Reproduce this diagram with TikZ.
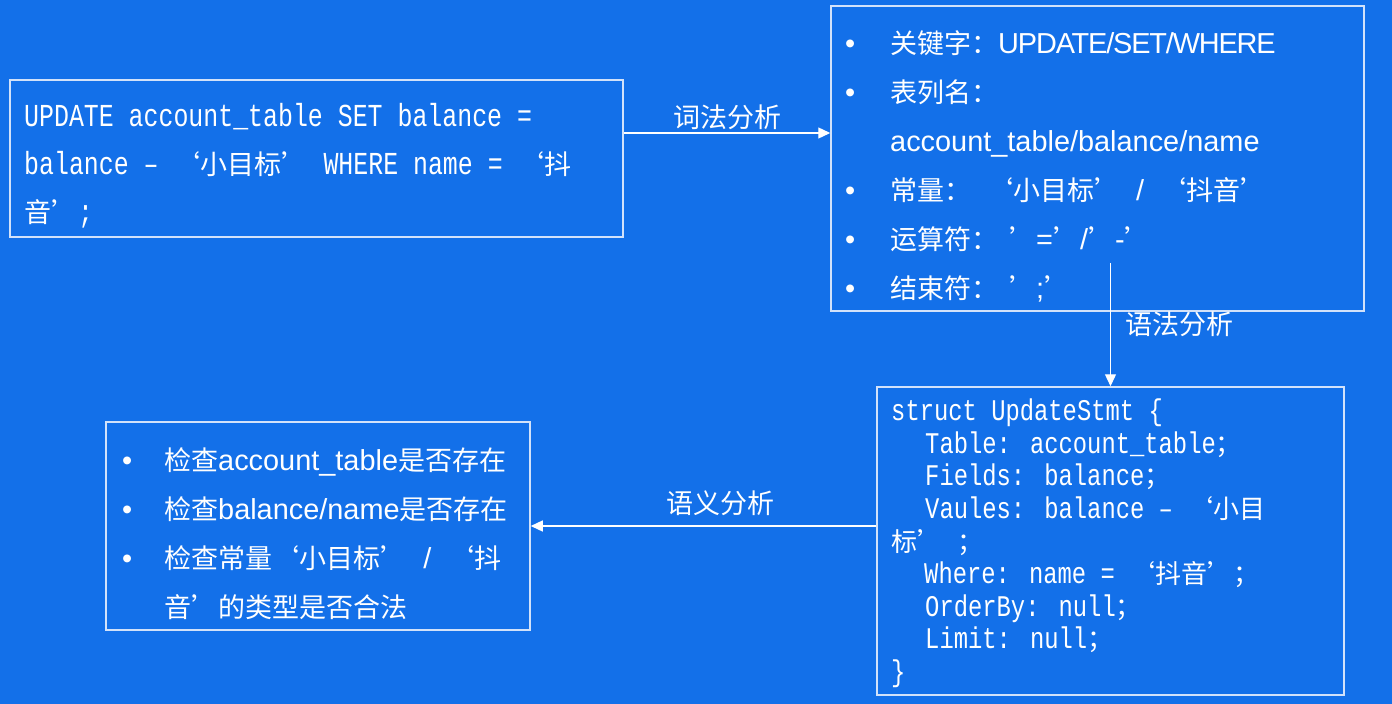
\documentclass[tikz,border=0pt]{standalone}
\usepackage{fontspec}
\setmainfont{Liberation Sans}[Scale=1.07]
\newfontfamily\zhfont{Noto Sans CJK SC}
\newfontfamily\sqlfont{Liberation Mono}[Scale=1.185,FakeStretch=0.778]
\newfontfamily\structfont{Liberation Mono}[Scale=1.154,FakeStretch=0.794]
\newcommand{\zh}[1]{{\zhfont #1}}
\newcommand{\bul}[1][45pt]{\makebox[#1][l]{•}}
\usetikzlibrary{arrows.meta,positioning}
\definecolor{bgblue}{HTML}{1370E9}
\definecolor{frame}{HTML}{D2E2FA}

\begin{document}
\begin{tikzpicture}[x=1pt,y=-1pt,
    stage/.style={draw=frame,line width=1.5pt,rectangle,inner sep=0pt},
    text line/.style={anchor=base west,inner sep=0pt,text=white},
    flow/.style={draw=white,line width=1.3pt,-{Triangle[length=12pt,width=11pt]}},
    step label/.style={text=white,inner sep=0pt,font=\fontsize{27}{27}\selectfont\zhfont}]

  \fill[bgblue] (0,0) rectangle (1392,704);

  % the four stages
  \node [stage,minimum width=613pt,minimum height=157pt] (sql) at (316.5,158.5) {};
  \node [stage,minimum width=533pt,minimum height=305pt] (tokens) at (1097.5,158.5) {};
  \node [stage,minimum width=467pt,minimum height=308pt] (ast) at (1110.5,541) {};
  \node [stage,minimum width=424pt,minimum height=208pt] (check) at (318,526) {};

  % SQL statement
  \foreach \txt [count=\i from 0] in {
      {UPDATE account\_table SET balance =},
      {balance – \zh{‘小目标’} WHERE name = \zh{‘抖}},
      {\zh{音’};}}
    \node [text line,font=\fontsize{27}{27}\selectfont\sqlfont] (sql-\i) at (24,126+48*\i) {\txt};

  % tokens
  \foreach \txt [count=\i from 0] in {
      {\bul\zh{关键字：}{\addfontfeature{LetterSpace=-4}UPDATE/SET/WHERE}},
      {\bul\zh{表列名：}},
      {\hspace*{45pt}account\_table/balance/name},
      {\bul\zh{常量：}\hspace{15pt}\zh{‘小目标’}\hspace{7pt} / \hspace{7pt}\zh{‘抖音’}},
      {\bul\zh{运算符：}\hspace{11pt}\zh{’}=\zh{’}/\zh{’}-\zh{’}},
      {\bul\zh{结束符：}\hspace{11pt}\zh{’};\zh{’}}}
    \node [text line,font=\fontsize{27}{27}\selectfont] (tok-\i) at (845,53+49*\i) {\txt};

  % syntax tree
  \foreach \txt [count=\i from 0] in {
      {struct UpdateStmt \{},
      {\hspace*{34pt}Table: account\_table\zh{；}},
      {\hspace*{34pt}Fields: balance\zh{；}},
      {\hspace*{34pt}Vaules: balance – \zh{‘小目}},
      {\zh{标’} \zh{；}},
      {\hspace*{33pt}Where: name = \zh{‘抖音’；}},
      {\hspace*{34pt}OrderBy: null\zh{；}},
      {\hspace*{34pt}Limit: null\zh{；}},
      {\}}}
    \node [text line,font=\fontsize{26}{26}\selectfont\structfont] (ast-\i) at (891,420.7+32.6*\i) {\txt};

  % checks
  \foreach \txt [count=\i from 0] in {
      {\bul[42pt]\zh{检查}account\_table\zh{是否存在}},
      {\bul[42pt]\zh{检查}balance/name\zh{是否存在}},
      {\bul[42pt]\zh{检查常量‘小目标’}\ \ /\ \ \zh{‘抖}},
      {\hspace*{42pt}\zh{音’的类型是否合法}}}
    \node [text line,font=\fontsize{27}{27}\selectfont] (chk-\i) at (122,470+49*\i) {\txt};

  % analysis steps
  \draw [flow] ([yshift=25.5pt]sql.east) -- node [step label,above=3pt] (lexing) {词法分析} ([yshift=25.5pt]tokens.west);
  \coordinate (parse start) at ([yshift=49pt]tokens.south);
  \draw [flow] (parse start -| ast.north) -- node [step label,right=14pt] (parsing) {语法分析} (ast.north);
  \draw [flow] (ast.west |- check.east) -- node [step label,above=10pt,pos=0.45] (semantics) {语义分析} (check.east);

\end{tikzpicture}
\end{document}
